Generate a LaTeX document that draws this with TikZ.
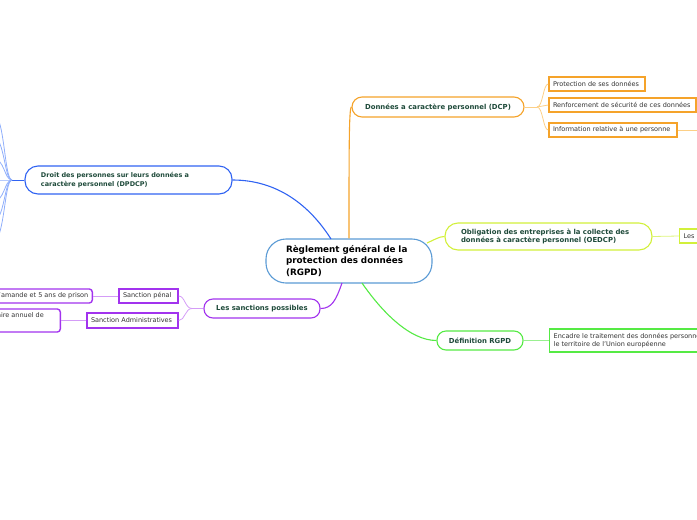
\documentclass[tikz,border=0pt]{standalone}
\usepackage{fontspec}
\setmainfont{DejaVu Sans}
\usetikzlibrary{calc}
\definecolor{cblue}{HTML}{5B9BD5}
\definecolor{corange}{HTML}{F5A32A}
\definecolor{corangel}{HTML}{FCCF86}
\definecolor{cdblue}{HTML}{3063F2}
\definecolor{cdbluel}{HTML}{8FAEFB}
\definecolor{cpurple}{HTML}{A233EE}
\definecolor{cpurplel}{HTML}{D49CF7}
\definecolor{cyel}{HTML}{D2F03A}
\definecolor{cyell}{HTML}{DDF47A}
\definecolor{cgreen}{HTML}{55EA44}
\definecolor{cgreenl}{HTML}{99F090}
\definecolor{dkgreen}{HTML}{1E4A3A}
\definecolor{txtgray}{HTML}{333333}
\begin{document}
\begin{tikzpicture}[x=1pt,y=-1pt,
  mainnode/.style={draw, line width=1.1pt, fill=white, text=dkgreen, inner sep=0pt,
    font=\fontsize{6.9}{8.8}\selectfont\bfseries, align=left},
  leafbox/.style={draw, line width=1.4pt, fill=white, text=txtgray, inner xsep=4pt, inner ysep=0pt,
    font=\fontsize{6.5}{8.6}\selectfont, align=left},
  conn/.style={line width=1.1pt},
  subconn/.style={line width=0.8pt}]
\useasboundingbox (0,0) rectangle (697,520);

% central
\node[draw=cblue, line width=1.1pt, fill=white, rounded corners=20pt, minimum width=166pt, minimum height=44pt,
  text width=126pt, align=left, inner sep=0pt, font=\fontsize{8.8}{11.6}\selectfont\bfseries] (C) at (349,261)
  {R\`eglement g\'en\'eral de la\\protection des donn\'ees\\(RGPD)};

% level 1
\node[mainnode, draw=corange, rounded corners=10pt, minimum width=172pt, minimum height=20pt, align=center] (DCP) at (438,107)
  {Donn\'ees a caract\`ere personnel (DCP)};
\node[mainnode, draw=cdblue, rounded corners=13pt, minimum width=207pt, minimum height=28pt, text width=175pt,
  font=\fontsize{6.5}{8.8}\selectfont\bfseries] (DP) at (128.5,180)
  {Droit des personnes sur leurs donn\'ees a\\caract\`ere personnel (DPDCP)};
\node[mainnode, draw=cpurple, rounded corners=9pt, minimum width=116pt, minimum height=19pt, align=center] (S) at (262,308.5)
  {Les sanctions possibles};
\node[mainnode, draw=cyel, rounded corners=13pt, minimum width=207pt, minimum height=27pt, text width=175pt] (O) at (548.5,236.5)
  {Obligation des entreprises \`a la collecte des\\donn\'ees \`a caract\`ere personnel (OEDCP)};
\node[mainnode, draw=cgreen, rounded corners=9pt, minimum width=86pt, minimum height=19pt, align=center] (D) at (480,340.5)
  {D\'efinition RGPD};

% leaves
\node[leafbox, draw=corange, text width=88pt, minimum height=14pt] (P1) at (597,84) {Protection de ses donn\'ees};
\node[leafbox, draw=corange, text width=139pt, minimum height=14pt] (P2) at (622.5,105) {Renforcement de s\'ecurit\'e de ces donn\'ees};
\node[leafbox, draw=corange, text width=120pt, minimum height=14pt] (P3) at (613,130) {Information relative \`a une personne};
\coordinate (P3out) at (700,130);

\node[leafbox, draw=cyel, text width=60pt, minimum height=14pt, anchor=west] (L) at (679,236) {Les s};
\node[leafbox, draw=cgreen, minimum height=23pt, anchor=west] (E) at (549,340.5)
  {Encadre le traitement des donn\'ees personnelles sur\\le territoire de l'Union europ\'eenne};

\node[leafbox, draw=cpurple, text width=51pt, minimum height=14pt] (SP) at (148.5,296) {Sanction p\'enal};
\node[leafbox, draw=cpurple, text width=83pt, minimum height=15pt] (SA) at (132.5,320.5) {Sanction Administratives};
\node[leafbox, draw=cpurple, rounded corners=3pt, minimum height=14pt, anchor=east] (G1) at (93,296) {l'amande et 5 ans de prison};
\node[draw=cpurple, line width=1.4pt, rounded corners=3pt, minimum width=150pt, minimum height=23pt, anchor=east] (G2) at (61,320.5) {};
\node[text=txtgray, inner sep=0pt, font=\fontsize{6.5}{8.6}\selectfont, anchor=east] (G2t) at (44,315) {chiffre d'affaire annuel de};

% main connectors
\draw[conn, corange] (C.north) .. controls (349,150) and (349,107) .. (DCP.west);
\draw[conn, cdblue] (DP.east) .. controls (278,180) and (310,206) .. (331,239);
\draw[conn, cpurple] (342,283) .. controls (336,300) and (332,308.5) .. (S.east);
\draw[conn, cyel] (427,243) .. controls (434,240) and (439,236.5) .. (O.west);
\draw[conn, cgreen] (362,283) .. controls (382,312) and (410,340.5) .. (D.west);

% DCP children
\coordinate (J1) at (537,107);
\draw[subconn, corangel] (DCP.east) -- (J1);
\draw[subconn, corangel] (J1) .. controls (543,107) and (543,84) .. (P1.west);
\draw[subconn, corangel] (J1) -- (P2.west);
\draw[subconn, corangel] (J1) .. controls (543,107) and (543,130) .. (P3.west);
\draw[subconn, corangel] (P3.east) -- (P3out);

% DPDCP children (off picture)
\coordinate (J2) at (12,180);
\draw[subconn, cdblue] (DP.west) -- (J2);
\foreach \yy/\nm in {112/a,136/b,158/c,180/d,202/e,222/f,243/g}{
  \coordinate (DPk\nm) at (-8,\yy);
  \draw[subconn, cdbluel] (J2) .. controls (4,180) and (5,\yy) .. (DPk\nm);
}

% sanctions children
\coordinate (J3) at (192,308.5);
\draw[subconn, cpurplel] (S.west) -- (J3);
\draw[subconn, cpurplel] (J3) .. controls (185,308.5) and (185,296) .. (SP.east);
\draw[subconn, cpurplel] (J3) .. controls (185,308.5) and (185,320.5) .. (SA.east);
\draw[subconn, cpurplel] (SP.west) -- (G1.east);
\draw[subconn, cpurplel] (SA.west) -- (G2.east);

% other children
\draw[subconn, cyell] (O.east) -- (L.west);
\draw[subconn, cgreenl] (D.east) -- (E.west);
\end{tikzpicture}
\end{document}
